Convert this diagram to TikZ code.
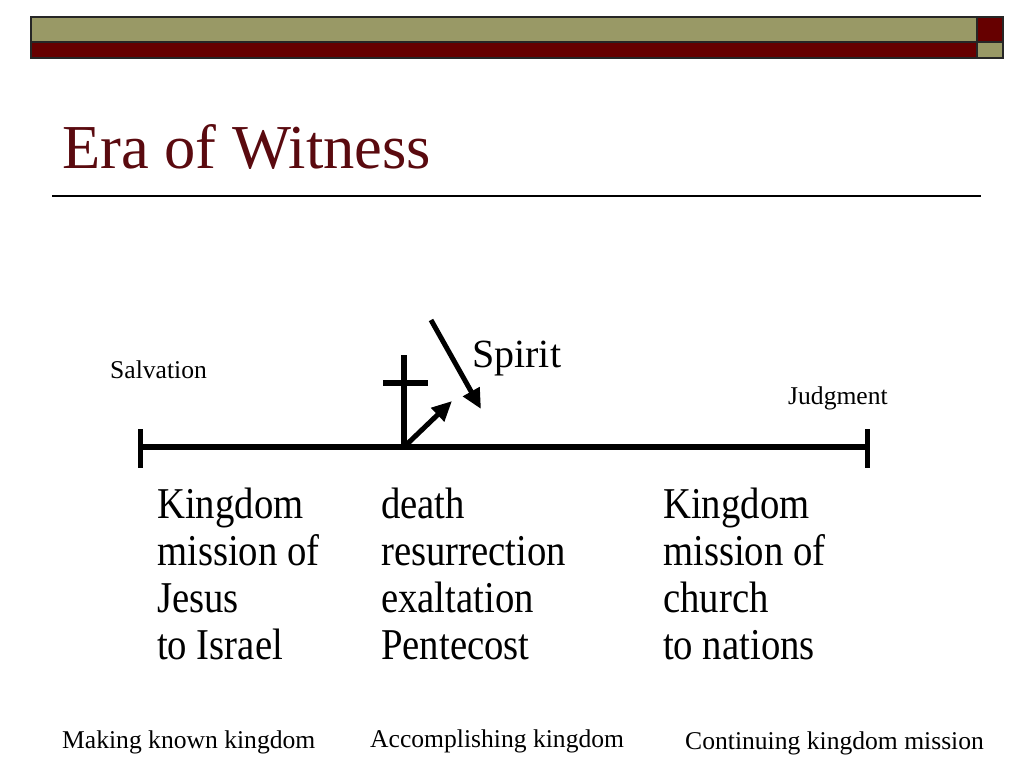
\documentclass[tikz,border=0pt]{standalone}
\usepackage{fontspec}
\setmainfont{Liberation Serif}
\newfontfamily\narrowserif[FakeStretch=0.88]{Liberation Serif}
\usetikzlibrary{arrows.meta}
\definecolor{olivebar}{HTML}{999966}
\definecolor{maroonbar}{HTML}{660000}
\definecolor{titlered}{HTML}{5A0A0F}
\begin{document}
\begin{tikzpicture}[x=1pt,y=-1pt,
    lbl/.style={anchor=base west,inner sep=0pt,font=\fontsize{25.6}{30}\selectfont},
    col/.style={anchor=base west,inner sep=0pt,align=left,font=\narrowserif\fontsize{44}{47}\selectfont},
    bar/.style={draw=black!85,line width=1.2pt},
    thickline/.style={line width=6pt},
    heavyarrow/.style={line width=5pt,-{Triangle[length=20pt,width=18pt]}}]
  \useasboundingbox (0,0) rectangle (1024,768);
  % top bar
  \fill[olivebar] (31,17) rectangle (977,42);
  \fill[maroonbar] (31,42) rectangle (977,58);
  \fill[maroonbar] (977,17) rectangle (1003,42);
  \fill[olivebar] (977,42) rectangle (1003,58);
  \draw[bar] (31,17) rectangle (1003,58);
  \draw[bar] (31,42) -- (1003,42);
  \draw[bar] (977,17) -- (977,58);
  % title
  \node[anchor=base west,inner sep=0pt,text=titlered,font=\fontsize{62.5}{70}\selectfont] (title) at (62,168) {Era of Witness};
  \draw[line width=1.3pt] (52,196) -- (981,196);

  % timeline
  \coordinate (start) at (140,447);
  \coordinate (stop) at (867,447);
  \coordinate (cross) at (404,447);
  \draw[thickline] (start) -- (stop);
  \draw[line width=5pt] (140,429) -- (140,468);
  \draw[line width=5pt] (867,429) -- (867,468);
  \draw[thickline] (cross) -- (404,355);
  \draw[thickline] (383,383) -- (428,383);
  \coordinate (rise) at (452,401);
  \draw[heavyarrow] (cross) -- (rise);
  \coordinate (sky) at (431,320);
  \coordinate (down) at (481,409);
  \draw[heavyarrow] (sky) -- (down);

  \node[anchor=base west,inner sep=0pt,font=\fontsize{40}{44}\selectfont] (spirit) at (472,367) {Spirit};
  \node[lbl] (salvation) at (110,378) {Salvation};
  \node[lbl] (judgment) at (788,404) {Judgment};

  % base of a multi-line node is its last line
  \node[col] (jesus) at (157,659) {Kingdom\\mission of\\Jesus\\to Israel};
  \node[col] (events) at (381,659) {death\\resurrection\\exaltation\\Pentecost};
  \node[col] (church) at (663,659) {Kingdom\\mission of\\church\\to nations};

  \node[lbl] (making) at (62,748) {Making known kingdom};
  \node[lbl] (accomp) at (370,747) {Accomplishing kingdom};
  \node[lbl] (contin) at (685,749) {Continuing kingdom mission};
\end{tikzpicture}
\end{document}
